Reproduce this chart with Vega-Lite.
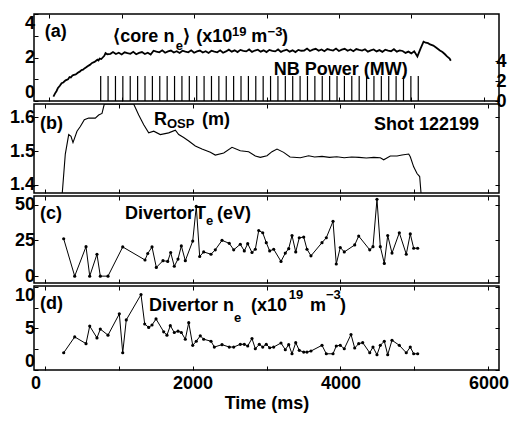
{
"$schema":"https://vega.github.io/schema/vega-lite/v6.json",
"padding":{"left":8,"top":12,"right":0,"bottom":4},
"spacing":3,
"bounds":"flush",
"config":{
 "font":"Liberation Sans",
 "view":{"stroke":"black","strokeWidth":1.5},
 "axis":{"domain":false,"grid":false,"tickSize":-4,"tickColor":"black","tickWidth":1,"labelFont":"Liberation Sans","labelFontWeight":"bold","labelFontSize":18,"labelColor":"black","labelPadding":3.5,"titleFont":"Liberation Sans","titleFontWeight":"bold","titleFontSize":18,"titleColor":"black"},
 "text":{"font":"Liberation Sans","fontWeight":"bold","color":"black","align":"left","baseline":"middle","fontSize":18}
},
"datasets":{
 "core":[{"t":57,"n":0.2},{"t":80,"n":0.35},{"t":99,"n":0.45},{"t":120,"n":0.6},{"t":146,"n":0.7},{"t":170,"n":0.82},{"t":193,"n":0.85},{"t":225,"n":0.95},{"t":259,"n":1.0},{"t":280,"n":1.1},{"t":298,"n":1.08},{"t":320,"n":1.17},{"t":340,"n":1.2},{"t":365,"n":1.22},{"t":394,"n":1.3},{"t":420,"n":1.35},{"t":445,"n":1.42},{"t":466,"n":1.44},{"t":486,"n":1.5},{"t":510,"n":1.55},{"t":529,"n":1.6},{"t":560,"n":1.66},{"t":591,"n":1.75},{"t":625,"n":1.8},{"t":664,"n":1.9},{"t":680,"n":1.86},{"t":696,"n":1.95},{"t":718,"n":1.93},{"t":738,"n":2.0},{"t":760,"n":2.08},{"t":777,"n":2.2},{"t":801,"n":2.15},{"t":845,"n":2.17},
 {"t":880,"n":2.25},{"t":920,"n":2.16},{"t":960,"n":2.22},{"t":1000,"n":2.14},{"t":1040,"n":2.24},{"t":1080,"n":2.2},{"t":1120,"n":2.17},{"t":1160,"n":2.26},{"t":1200,"n":2.15},{"t":1240,"n":2.21},{"t":1280,"n":2.25},{"t":1320,"n":2.16},{"t":1360,"n":2.22},{"t":1400,"n":2.14},{"t":1440,"n":2.31},{"t":1480,"n":2.27},{"t":1520,"n":2.24},{"t":1560,"n":2.33},{"t":1600,"n":2.22},{"t":1640,"n":2.28},{"t":1680,"n":2.32},{"t":1720,"n":2.23},{"t":1760,"n":2.29},{"t":1800,"n":2.21},{"t":1840,"n":2.31},{"t":1880,"n":2.27},{"t":1920,"n":2.24},{"t":1960,"n":2.33},{"t":2000,"n":2.22},{"t":2040,"n":2.28},{"t":2080,"n":2.32},{"t":2120,"n":2.23},{"t":2160,"n":2.29},{"t":2200,"n":2.21},{"t":2240,"n":2.31},{"t":2280,"n":2.27},{"t":2320,"n":2.24},{"t":2360,"n":2.33},{"t":2400,"n":2.22},{"t":2440,"n":2.28},{"t":2480,"n":2.36},{"t":2520,"n":2.27},{"t":2560,"n":2.33},{"t":2600,"n":2.25},{"t":2640,"n":2.35},{"t":2680,"n":2.31},{"t":2720,"n":2.28},{"t":2760,"n":2.37},{"t":2800,"n":2.26},{"t":2840,"n":2.32},{"t":2880,"n":2.36},{"t":2920,"n":2.27},{"t":2960,"n":2.33},{"t":3000,"n":2.25},{"t":3040,"n":2.35},{"t":3080,"n":2.31},{"t":3120,"n":2.28},{"t":3160,"n":2.37},{"t":3200,"n":2.26},{"t":3240,"n":2.32},{"t":3280,"n":2.36},{"t":3320,"n":2.27},{"t":3360,"n":2.33},{"t":3400,"n":2.25},{"t":3440,"n":2.35},{"t":3480,"n":2.31},{"t":3520,"n":2.32},{"t":3560,"n":2.41},{"t":3600,"n":2.3},{"t":3640,"n":2.36},{"t":3680,"n":2.4},{"t":3720,"n":2.31},{"t":3760,"n":2.37},{"t":3800,"n":2.29},{"t":3840,"n":2.39},{"t":3880,"n":2.35},{"t":3920,"n":2.32},{"t":3960,"n":2.41},{"t":4000,"n":2.3},{"t":4040,"n":2.36},{"t":4080,"n":2.4},{"t":4120,"n":2.31},{"t":4160,"n":2.37},{"t":4200,"n":2.29},{"t":4240,"n":2.39},{"t":4280,"n":2.35},{"t":4320,"n":2.32},{"t":4360,"n":2.38},{"t":4400,"n":2.27},{"t":4440,"n":2.33},{"t":4480,"n":2.37},{"t":4520,"n":2.28},{"t":4560,"n":2.34},{"t":4600,"n":2.26},{"t":4640,"n":2.36},{"t":4680,"n":2.32},{"t":4720,"n":2.29},{"t":4760,"n":2.38},{"t":4800,"n":2.27},{"t":4840,"n":2.33},{"t":4880,"n":2.3},{"t":4920,"n":2.21},{"t":4960,"n":2.27},{"t":5000,"n":2.19},{"t":5040,"n":2.29},{"t":5084,"n":2.05},{"t":5126,"n":2.4},{"t":5169,"n":2.73},{"t":5199,"n":2.68},{"t":5231,"n":2.66},{"t":5259,"n":2.6},{"t":5304,"n":2.55},{"t":5346,"n":2.45},{"t":5395,"n":2.32},{"t":5430,"n":2.25},{"t":5461,"n":2.16},{"t":5493,"n":2.05},{"t":5529,"n":1.95},{"t":5545,"n":1.85}],
 "nb":[{"t":710,"p":2.5},{"t":812,"p":2.5},{"t":914,"p":2.5},{"t":1016,"p":2.5},{"t":1118,"p":2.5},{"t":1220,"p":2.5},{"t":1322,"p":2.5},{"t":1424,"p":2.5},{"t":1526,"p":2.5},{"t":1628,"p":2.5},{"t":1730,"p":2.5},{"t":1832,"p":2.5},{"t":1934,"p":2.5},{"t":2036,"p":2.5},{"t":2138,"p":2.5},{"t":2240,"p":2.5},{"t":2342,"p":2.5},{"t":2444,"p":2.5},{"t":2546,"p":2.5},{"t":2648,"p":2.5},{"t":2750,"p":2.5},{"t":2852,"p":2.5},{"t":2954,"p":2.5},{"t":3056,"p":2.5},{"t":3158,"p":2.5},{"t":3260,"p":2.5},{"t":3362,"p":2.5},{"t":3464,"p":2.5},{"t":3566,"p":2.5},{"t":3668,"p":2.5},{"t":3770,"p":2.5},{"t":3872,"p":2.5},{"t":3974,"p":2.5},{"t":4076,"p":2.5},{"t":4178,"p":2.5},{"t":4280,"p":2.5},{"t":4382,"p":2.5},{"t":4484,"p":2.5},{"t":4586,"p":2.5},{"t":4688,"p":2.5},{"t":4790,"p":2.5},{"t":4892,"p":2.5},{"t":4994,"p":2.5},{"t":5096,"p":2.5}],
 "rosp":[{"t":240,"r":1.36},{"t":281,"r":1.491},{"t":327,"r":1.549},{"t":358,"r":1.544},{"t":385,"r":1.525},{"t":439,"r":1.559},{"t":484,"r":1.573},{"t":538,"r":1.593},{"t":597,"r":1.598},{"t":686,"r":1.598},{"t":732,"r":1.607},{"t":777,"r":1.612},{"t":808,"r":1.646},{"t":850,"r":1.7},{"t":1000,"r":1.74},{"t":1150,"r":1.7},{"t":1205,"r":1.646},{"t":1273,"r":1.607},{"t":1341,"r":1.578},{"t":1408,"r":1.554},{"t":1476,"r":1.559},{"t":1565,"r":1.549},{"t":1678,"r":1.554},{"t":1768,"r":1.562},{"t":1814,"r":1.549},{"t":1881,"r":1.54},{"t":1949,"r":1.53},{"t":2038,"r":1.515},{"t":2128,"r":1.506},{"t":2241,"r":1.496},{"t":2308,"r":1.488},{"t":2422,"r":1.494},{"t":2534,"r":1.511},{"t":2646,"r":1.501},{"t":2759,"r":1.498},{"t":2849,"r":1.485},{"t":2916,"r":1.481},{"t":3007,"r":1.486},{"t":3074,"r":1.498},{"t":3142,"r":1.506},{"t":3232,"r":1.496},{"t":3318,"r":1.482},{"t":3457,"r":1.48},{"t":3570,"r":1.486},{"t":3650,"r":1.482},{"t":3750,"r":1.484},{"t":3850,"r":1.481},{"t":3950,"r":1.483},{"t":4050,"r":1.48},{"t":4150,"r":1.482},{"t":4250,"r":1.481},{"t":4350,"r":1.479},{"t":4450,"r":1.481},{"t":4538,"r":1.48},{"t":4584,"r":1.474},{"t":4673,"r":1.485},{"t":4764,"r":1.485},{"t":4831,"r":1.488},{"t":4922,"r":1.491},{"t":4943,"r":1.483},{"t":4989,"r":1.453},{"t":5034,"r":1.433},{"t":5070,"r":1.424},{"t":5088,"r":1.36}],
 "te":[{"t":259,"v":26.1},{"t":408,"v":0},{"t":561,"v":20.6},{"t":611,"v":0},{"t":709,"v":15.3},{"t":754,"v":0},{"t":858,"v":0},{"t":1057,"v":20.4},{"t":1358,"v":11.3},{"t":1395,"v":15.8},{"t":1453,"v":20.4},{"t":1511,"v":6.1},{"t":1601,"v":10.8},{"t":1665,"v":10.3},{"t":1705,"v":16.5},{"t":1754,"v":6.9},{"t":1804,"v":11.9},{"t":1849,"v":21.1},{"t":1903,"v":10.8},{"t":2003,"v":24.5},{"t":2051,"v":48.7},{"t":2097,"v":13.7},{"t":2151,"v":16.9},{"t":2250,"v":15.3},{"t":2308,"v":18.4},{"t":2399,"v":25},{"t":2497,"v":22.9},{"t":2557,"v":18.4},{"t":2646,"v":22.3},{"t":2700,"v":17.6},{"t":2746,"v":22.7},{"t":2804,"v":16.5},{"t":2849,"v":18.8},{"t":2895,"v":31.9},{"t":2949,"v":30.3},{"t":2997,"v":23.4},{"t":3043,"v":17.6},{"t":3097,"v":18.8},{"t":3196,"v":10.3},{"t":3254,"v":16.1},{"t":3300,"v":19.2},{"t":3345,"v":28.4},{"t":3395,"v":16.9},{"t":3443,"v":26.8},{"t":3503,"v":27.3},{"t":3547,"v":18.8},{"t":3601,"v":14.2},{"t":3750,"v":23.4},{"t":3808,"v":26.8},{"t":3899,"v":38.3},{"t":3943,"v":8.5},{"t":3997,"v":20.0},{"t":4051,"v":16.9},{"t":4192,"v":21.8},{"t":4246,"v":28.0},{"t":4395,"v":18.4},{"t":4439,"v":20.6},{"t":4493,"v":53.7},{"t":4538,"v":20.6},{"t":4592,"v":8.9},{"t":4638,"v":28.4},{"t":4696,"v":16.1},{"t":4795,"v":30.3},{"t":4889,"v":15.3},{"t":4943,"v":29.5},{"t":4989,"v":19.5},{"t":5043,"v":19.5}],
 "dne":[{"t":259,"n":2.07},{"t":408,"n":3.98},{"t":561,"n":3.17},{"t":611,"n":5.28},{"t":709,"n":3.86},{"t":754,"n":4.92},{"t":858,"n":4.19},{"t":1011,"n":6.75},{"t":1057,"n":2.07},{"t":1105,"n":6.02},{"t":1304,"n":9.07},{"t":1354,"n":5.53},{"t":1408,"n":5.12},{"t":1453,"n":5.41},{"t":1507,"n":6.14},{"t":1611,"n":4.59},{"t":1655,"n":4.19},{"t":1700,"n":5.33},{"t":1754,"n":4.51},{"t":1804,"n":4.67},{"t":1849,"n":4.51},{"t":1903,"n":3.7},{"t":1949,"n":5.69},{"t":2003,"n":2.97},{"t":2051,"n":3.46},{"t":2105,"n":4.11},{"t":2151,"n":3.7},{"t":2250,"n":3.46},{"t":2295,"n":2.76},{"t":2399,"n":3.05},{"t":2497,"n":2.76},{"t":2557,"n":2.76},{"t":2646,"n":3.09},{"t":2700,"n":3.09},{"t":2746,"n":2.89},{"t":2804,"n":3.78},{"t":2849,"n":2.56},{"t":2903,"n":3.09},{"t":2949,"n":2.76},{"t":2997,"n":3.09},{"t":3043,"n":2.68},{"t":3097,"n":2.76},{"t":3196,"n":3.25},{"t":3254,"n":2.44},{"t":3300,"n":3.05},{"t":3345,"n":1.95},{"t":3395,"n":3.29},{"t":3443,"n":2.36},{"t":3503,"n":2.15},{"t":3547,"n":2.15},{"t":3601,"n":2.28},{"t":3750,"n":2.97},{"t":3808,"n":1.95},{"t":3899,"n":1.95},{"t":3943,"n":2.89},{"t":3997,"n":2.97},{"t":4051,"n":2.56},{"t":4142,"n":4.27},{"t":4192,"n":2.64},{"t":4246,"n":3.17},{"t":4300,"n":3.29},{"t":4395,"n":2.07},{"t":4439,"n":2.76},{"t":4493,"n":1.83},{"t":4538,"n":2.97},{"t":4592,"n":3.46},{"t":4638,"n":1.83},{"t":4696,"n":3.58},{"t":4795,"n":2.97},{"t":4889,"n":2.07},{"t":4943,"n":2.76},{"t":4989,"n":1.95},{"t":5043,"n":1.95}]
},
"vconcat":[
 {
  "width":465,"height":87,
  "resolve":{"scale":{"y":"independent"},"axis":{"x":"independent","y":"independent"}},
  "layer":[
    {"data":{"name":"core"},"mark":{"type":"line","color":"black","strokeWidth":1.8,"clip":true},
     "encoding":{"x":{"field":"t","type":"quantitative","scale":{"domain":[-142,6142],"nice":false,"zero":false},"axis":{"orient":"bottom","values":[0,1000,2000,3000,4000,5000,6000],"labels":false,"title":null}},
                 "y":{"field":"n","type":"quantitative","scale":{"domain":[0,4],"nice":false,"zero":false},"axis":{"orient":"left","values":[0,1,2,3,4],"labelExpr":"datum.value % 2 === 0 ? datum.label : ''","labelFlush":2,"title":null}}}},
    {"data":{"name":"nb"},"mark":{"type":"bar","color":"black","size":1.2},
     "encoding":{"x":{"field":"t","type":"quantitative","axis":{"orient":"top","values":[0,1000,2000,3000,4000,5000,6000],"labels":false,"title":null}},
                "y":{"field":"p","type":"quantitative","scale":{"domain":[0,8.7],"nice":false,"zero":true},"axis":{"orient":"right","values":[0,2,4],"labelPadding":1,"title":null}}}},
    {"data":{"values":[{}]},"mark":{"type":"text","text":"(a)"},"encoding":{"x":{"datum":-61,"type":"quantitative","axis":null},"y":{"datum":3.17,"type":"quantitative","axis":null,"scale":{"domain":[0,4],"nice":false,"zero":false}}}},
    {"data":{"values":[{}]},"mark":{"type":"text","text":"⟨core n"},"encoding":{"x":{"datum":885,"type":"quantitative","axis":null},"y":{"datum":2.94,"type":"quantitative","axis":null,"scale":{"domain":[0,4],"nice":false,"zero":false}}}},
    {"data":{"values":[{}]},"mark":{"type":"text","text":"e","fontSize":13},"encoding":{"x":{"datum":1745,"type":"quantitative","axis":null},"y":{"datum":2.53,"type":"quantitative","axis":null,"scale":{"domain":[0,4],"nice":false,"zero":false}}}},
    {"data":{"values":[{}]},"mark":{"type":"text","text":"⟩"},"encoding":{"x":{"datum":1845,"type":"quantitative","axis":null},"y":{"datum":2.94,"type":"quantitative","axis":null,"scale":{"domain":[0,4],"nice":false,"zero":false}}}},
    {"data":{"values":[{}]},"mark":{"type":"text","text":"(x10"},"encoding":{"x":{"datum":2030,"type":"quantitative","axis":null},"y":{"datum":2.94,"type":"quantitative","axis":null,"scale":{"domain":[0,4],"nice":false,"zero":false}}}},
    {"data":{"values":[{}]},"mark":{"type":"text","text":"19","fontSize":13},"encoding":{"x":{"datum":2525,"type":"quantitative","axis":null},"y":{"datum":3.17,"type":"quantitative","axis":null,"scale":{"domain":[0,4],"nice":false,"zero":false}}}},
    {"data":{"values":[{}]},"mark":{"type":"text","text":"m"},"encoding":{"x":{"datum":2790,"type":"quantitative","axis":null},"y":{"datum":2.94,"type":"quantitative","axis":null,"scale":{"domain":[0,4],"nice":false,"zero":false}}}},
    {"data":{"values":[{}]},"mark":{"type":"text","text":"−3","fontSize":13},"encoding":{"x":{"datum":3015,"type":"quantitative","axis":null},"y":{"datum":3.17,"type":"quantitative","axis":null,"scale":{"domain":[0,4],"nice":false,"zero":false}}}},
    {"data":{"values":[{}]},"mark":{"type":"text","text":")"},"encoding":{"x":{"datum":3215,"type":"quantitative","axis":null},"y":{"datum":2.94,"type":"quantitative","axis":null,"scale":{"domain":[0,4],"nice":false,"zero":false}}}},
    {"data":{"values":[{}]},"mark":{"type":"text","text":"NB Power (MW)"},"encoding":{"x":{"datum":3101,"type":"quantitative","axis":null},"y":{"datum":1.43,"type":"quantitative","axis":null,"scale":{"domain":[0,4],"nice":false,"zero":false}}}}
  ]
 },
 {
  "width":465,"height":89,
  "resolve":{"axis":{"x":"independent","y":"independent"}},
  "layer":[
    {"data":{"name":"rosp"},"mark":{"type":"line","color":"black","strokeWidth":1.1,"clip":true},
     "encoding":{"x":{"field":"t","type":"quantitative","scale":{"domain":[-142,6142],"nice":false,"zero":false},"axis":{"orient":"bottom","values":[0,1000,2000,3000,4000,5000,6000],"labels":false,"title":null}},
                 "y":{"field":"r","type":"quantitative","scale":{"domain":[1.375,1.64],"nice":false,"zero":false,"clamp":true},"axis":{"orient":"left","values":[1.4,1.5,1.6],"format":".1f","title":null}}}},
    {"data":{"name":"rosp"},"mark":{"type":"point","opacity":0},
     "encoding":{"x":{"field":"t","type":"quantitative","axis":{"orient":"top","values":[0,1000,2000,3000,4000,5000,6000],"labels":false,"title":null}},
                "y":{"field":"r","type":"quantitative","axis":{"orient":"right","values":[1.4,1.5,1.6],"labels":false,"title":null}}}},
    {"data":{"values":[{}]},"mark":{"type":"text","text":"(b)"},"encoding":{"x":{"datum":-61,"type":"quantitative","axis":null},"y":{"datum":1.579,"type":"quantitative","axis":null}}},
    {"data":{"values":[{}]},"mark":{"type":"text","text":"R"},"encoding":{"x":{"datum":1480,"type":"quantitative","axis":null},"y":{"datum":1.592,"type":"quantitative","axis":null}}},
    {"data":{"values":[{}]},"mark":{"type":"text","text":"OSP","fontSize":13},"encoding":{"x":{"datum":1655,"type":"quantitative","axis":null},"y":{"datum":1.58,"type":"quantitative","axis":null}}},
    {"data":{"values":[{}]},"mark":{"type":"text","text":"(m)"},"encoding":{"x":{"datum":2128,"type":"quantitative","axis":null},"y":{"datum":1.592,"type":"quantitative","axis":null}}},
    {"data":{"values":[{}]},"mark":{"type":"text","text":"Shot 122199"},"encoding":{"x":{"datum":4453,"type":"quantitative","axis":null},"y":{"datum":1.5775,"type":"quantitative","axis":null}}}
  ]
 },
 {
  "width":465,"height":87,
  "resolve":{"axis":{"x":"independent","y":"independent"}},
  "layer":[
    {"data":{"name":"te"},"mark":{"type":"line","color":"black","strokeWidth":1,"clip":true},
     "encoding":{"x":{"field":"t","type":"quantitative","scale":{"domain":[-142,6142],"nice":false,"zero":false},"axis":{"orient":"bottom","values":[0,1000,2000,3000,4000,5000,6000],"labels":false,"title":null}},
                 "y":{"field":"v","type":"quantitative","scale":{"domain":[-4.8,56],"nice":false,"zero":false,"clamp":true},"axis":{"orient":"left","values":[0,25,50],"title":null}}}},
    {"data":{"name":"te"},"mark":{"type":"point","filled":true,"size":10,"color":"black","opacity":1,"clip":true},
     "encoding":{"x":{"field":"t","type":"quantitative","axis":{"orient":"top","values":[0,1000,2000,3000,4000,5000,6000],"labels":false,"title":null}},
                 "y":{"field":"v","type":"quantitative","axis":{"orient":"right","values":[0,25,50],"labels":false,"title":null}}}},
    {"data":{"values":[{}]},"mark":{"type":"text","text":"(c)"},"encoding":{"x":{"datum":-61,"type":"quantitative","axis":null},"y":{"datum":43.4,"type":"quantitative","axis":null}}},
    {"data":{"values":[{}]},"mark":{"type":"text","text":"Divertor"},"encoding":{"x":{"datum":1088,"type":"quantitative","axis":null},"y":{"datum":43.4,"type":"quantitative","axis":null}}},
    {"data":{"values":[{}]},"mark":{"type":"text","text":"T"},"encoding":{"x":{"datum":2034,"type":"quantitative","axis":null},"y":{"datum":43.4,"type":"quantitative","axis":null}}},
    {"data":{"values":[{}]},"mark":{"type":"text","text":"e","fontSize":13},"encoding":{"x":{"datum":2182,"type":"quantitative","axis":null},"y":{"datum":38.5,"type":"quantitative","axis":null}}},
    {"data":{"values":[{}]},"mark":{"type":"text","text":"(eV)"},"encoding":{"x":{"datum":2331,"type":"quantitative","axis":null},"y":{"datum":43.4,"type":"quantitative","axis":null}}}
  ]
 },
 {
  "width":465,"height":84,
  "resolve":{"axis":{"x":"independent","y":"independent"}},
  "layer":[
    {"data":{"name":"dne"},"mark":{"type":"line","color":"black","strokeWidth":1,"clip":true},
     "encoding":{"x":{"field":"t","type":"quantitative","scale":{"domain":[-142,6142],"nice":false,"zero":false},"axis":{"orient":"bottom","values":[0,1000,2000,3000,4000,5000,6000],"format":"d","labelExpr":"datum.value % 2000 === 0 ? datum.label : ''","labelFlush":false,"labelPadding":8,"labelOffset":{"condition":{"test":"datum.value === 0","value":-9},"value":0},"title":"Time (ms)","titlePadding":2}},
                 "y":{"field":"n","type":"quantitative","scale":{"domain":[0,10.1],"nice":false,"zero":false,"clamp":true},"axis":{"orient":"left","values":[0,2.5,5,7.5,10],"labelExpr":"datum.value % 5 === 0 ? datum.label : ''","labelFlush":3,"title":null}}}},
    {"data":{"name":"dne"},"mark":{"type":"point","filled":true,"size":10,"color":"black","opacity":1,"clip":true},
     "encoding":{"x":{"field":"t","type":"quantitative","axis":{"orient":"top","values":[0,1000,2000,3000,4000,5000,6000],"labels":false,"title":null}},
                 "y":{"field":"n","type":"quantitative","axis":{"orient":"right","values":[0,2.5,5,7.5,10],"labels":false,"title":null}}}},
    {"data":{"values":[{}]},"mark":{"type":"text","text":"(d)"},"encoding":{"x":{"datum":-61,"type":"quantitative","axis":null},"y":{"datum":7.94,"type":"quantitative","axis":null}}},
    {"data":{"values":[{}]},"mark":{"type":"text","text":"Divertor n"},"encoding":{"x":{"datum":1412,"type":"quantitative","axis":null},"y":{"datum":7.7,"type":"quantitative","axis":null}}},
    {"data":{"values":[{}]},"mark":{"type":"text","text":"e","fontSize":13},"encoding":{"x":{"datum":2560,"type":"quantitative","axis":null},"y":{"datum":6.25,"type":"quantitative","axis":null}}},
    {"data":{"values":[{}]},"mark":{"type":"text","text":"(x10"},"encoding":{"x":{"datum":2790,"type":"quantitative","axis":null},"y":{"datum":7.7,"type":"quantitative","axis":null}}},
    {"data":{"values":[{}]},"mark":{"type":"text","text":"19","fontSize":13},"encoding":{"x":{"datum":3300,"type":"quantitative","axis":null},"y":{"datum":9.0,"type":"quantitative","axis":null}}},
    {"data":{"values":[{}]},"mark":{"type":"text","text":"m"},"encoding":{"x":{"datum":3588,"type":"quantitative","axis":null},"y":{"datum":7.7,"type":"quantitative","axis":null}}},
    {"data":{"values":[{}]},"mark":{"type":"text","text":"−3","fontSize":13},"encoding":{"x":{"datum":3804,"type":"quantitative","axis":null},"y":{"datum":9.0,"type":"quantitative","axis":null}}},
    {"data":{"values":[{}]},"mark":{"type":"text","text":")"},"encoding":{"x":{"datum":3993,"type":"quantitative","axis":null},"y":{"datum":7.7,"type":"quantitative","axis":null}}}
  ]
 }
]
}
